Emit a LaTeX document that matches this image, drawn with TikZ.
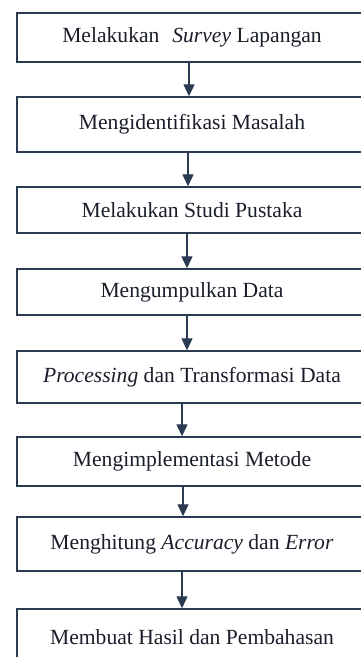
\documentclass[tikz,border=0pt]{standalone}
\usepackage{fontspec}
\setmainfont{Liberation Serif}
\usetikzlibrary{arrows.meta}
\definecolor{navy}{HTML}{2A3A50}
\definecolor{txt}{HTML}{1A1E2A}
\begin{document}
\begin{tikzpicture}[x=1pt,y=-1pt,
  box/.style={draw=navy, line width=1.4pt, minimum width=350pt, inner sep=0pt,
    font=\fontsize{21.6pt}{24pt}\selectfont, text=txt},
  arr/.style={draw=navy, line width=1.2pt, -{Triangle[length=12pt,width=11pt]}}]
\useasboundingbox (0,0) rectangle (361,657);
\clip (0,0) rectangle (361,657);
\node[box, minimum height=49pt] (b1) at (192,37.5) {Melakukan\hspace{0.6em}\textit{Survey} Lapangan};
\node[box, minimum height=55pt] (b2) at (192,124.5) {Mengidentifikasi Masalah};
\node[box, minimum height=46pt] (b3) at (192,210) {Melakukan Studi Pustaka};
\node[box, minimum height=46pt] (b4) at (192,292) {Mengumpulkan Data};
\node[box, minimum height=52pt] (b5) at (192,377) {\textit{Processing} dan Transformasi Data};
\node[box, minimum height=49pt] (b6) at (192,461.5) {Mengimplementasi Metode};
\node[box, minimum height=54pt] (b7) at (192,544) {Menghitung \textit{Accuracy} dan \textit{Error}};
\node[box, minimum height=56pt] (b8) at (192,637) {Membuat Hasil dan Pembahasan};
\draw[arr] ([xshift=-3pt]b1.south) -- ([xshift=-3pt]b2.north);
\draw[arr] ([xshift=-4pt]b2.south) -- ([xshift=-4pt]b3.north);
\draw[arr] ([xshift=-5pt]b3.south) -- ([xshift=-5pt]b4.north);
\draw[arr] ([xshift=-5pt]b4.south) -- ([xshift=-5pt]b5.north);
\draw[arr] ([xshift=-10pt]b5.south) -- ([xshift=-10pt]b6.north);
\draw[arr] ([xshift=-9pt]b6.south) -- ([xshift=-9pt]b7.north);
\draw[arr] ([xshift=-10pt]b7.south) -- ([xshift=-10pt]b8.north);
\end{tikzpicture}
\end{document}
